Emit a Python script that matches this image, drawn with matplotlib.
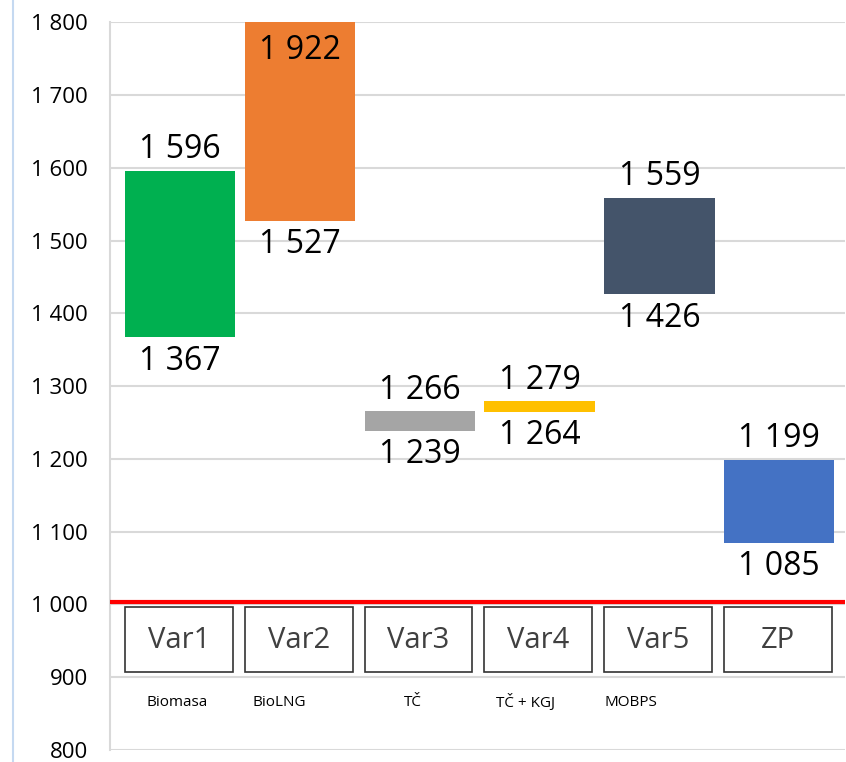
import numpy as np
import matplotlib.pyplot as plt
from matplotlib.patches import Rectangle
from matplotlib.lines import Line2D
from matplotlib.ticker import FuncFormatter

plt.rcParams['font.family'] = ['Open Sans', 'DejaVu Sans']

# data
variants = ["Var1", "Var2", "Var3", "Var4", "Var5", "ZP"]
descriptions = ["Biomasa", "BioLNG", "TČ", "TČ + KGJ", "MOBPS", ""]
lows = [1367, 1527, 1239, 1264, 1426, 1085]
highs = [1596, 1922, 1266, 1279, 1559, 1199]
colors = ["#00B050", "#ED7D31", "#A5A5A5", "#FFC000", "#44546A", "#4472C4"]
baseline = 1004
y_min, y_max = 800, 1800

fig = plt.figure(figsize=(8.46, 7.62), dpi=100)
ax = fig.add_axes([0.130, 0.0157, 0.869, 0.955])

x = np.arange(len(variants))
w = 0.92
ax.bar(x, np.array(highs) - np.array(lows), bottom=lows, width=w,
       color=colors, zorder=3)

def fmt(v):
    return "{:,}".format(int(v)).replace(",", " ")

for xi, lo, hi in zip(x, lows, highs):
    if hi > y_max:
        # bar is cut off at the top, put the label inside
        ax.annotate(fmt(hi), (xi, y_max), xytext=(0, -20), textcoords='offset points',
                    ha='center', va='center', fontsize=23, zorder=5)
    else:
        ax.annotate(fmt(hi), (xi, hi), xytext=(0, 15), textcoords='offset points',
                    ha='center', va='center', fontsize=23, zorder=5)
    ax.annotate(fmt(lo), (xi, lo), xytext=(0, -17), textcoords='offset points',
                ha='center', va='center', fontsize=23, zorder=5)

# red reference line
ax.axhline(baseline, color='#FF0000', lw=3, zorder=4)

# variant boxes
for xi, name in zip(x, variants):
    ax.add_patch(Rectangle((xi - 0.46, 907), 0.9, 89, facecolor='white',
                           edgecolor='#333333', lw=1.2, zorder=4))
    ax.text(xi - 0.01, 951, name, ha='center', va='center', fontsize=21,
            color='#404040', zorder=5)

# small descriptions
desc_shift = [-0.02, -0.17, -0.06, -0.12, -0.24, 0]
for xi, d, s in zip(x, descriptions, desc_shift):
    ax.text(xi + s, 865, d, ha='center', va='center', fontsize=11, zorder=5)

ax.set_xlim(-0.584, 5.55)
ax.set_ylim(y_min, y_max)
ax.set_yticks(np.arange(y_min, y_max + 1, 100))
ax.yaxis.set_major_formatter(FuncFormatter(lambda v, p: fmt(v)))
ax.set_xticks([])
ax.tick_params(axis='y', length=0, pad=16, labelsize=16)
ax.grid(axis='y', color='#D9D9D9', lw=1.5, zorder=0)
for side in ['top', 'right', 'bottom']:
    ax.spines[side].set_visible(False)
ax.spines['left'].set_color('#D9D9D9')
ax.spines['left'].set_linewidth(1.5)

fig.add_artist(Line2D([0.015, 0.015], [0, 1], color='#C5D9F1', lw=1.5))

fig.savefig('out.png', dpi=100)
